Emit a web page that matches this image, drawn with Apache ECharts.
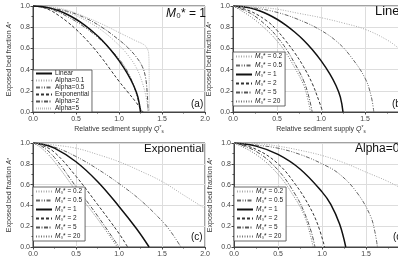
<!DOCTYPE html>
<html>
<head>
<meta charset="utf-8">
<script src="https://cdn.jsdelivr.net/npm/echarts@6/dist/echarts.min.js"></script>
<style>
  html, body { margin: 0; padding: 0; background: #fff; }
  #chart { width: 398px; height: 260px; }
</style>
</head>
<body>
<div id="chart"></div>
<script>
  // panel (a): M0* = 1, different models
  const aLinear = [[0,1],[0.1,0.995],[0.2,0.98],[0.3,0.955],[0.4,0.92],[0.5,0.875],[0.6,0.82],[0.7,0.755],[0.8,0.68],[0.9,0.59],[1.0,0.485],[1.1,0.36],[1.17,0.25],[1.22,0.14],[1.25,0]]
  const aAlpha01 = [[0,1],[0.2,0.98],[0.4,0.94],[0.6,0.87],[0.8,0.77],[1.0,0.63],[1.1,0.54],[1.2,0.42],[1.27,0.28],[1.32,0.12],[1.34,0]]
  const aAlpha05 = [[0,1],[0.2,0.97],[0.4,0.9],[0.6,0.8],[0.8,0.67],[1.0,0.5],[1.1,0.38],[1.17,0.25],[1.22,0.12],[1.26,0]]
  const aExpon = [[0,1],[0.1,0.99],[0.2,0.96],[0.3,0.91],[0.4,0.85],[0.5,0.78],[0.6,0.7],[0.7,0.61],[0.8,0.51],[0.9,0.4],[1.0,0.29],[1.1,0.19],[1.2,0.09],[1.26,0.02],[1.28,0]]
  const aAlpha2 = [[0,1],[0.2,0.98],[0.4,0.95],[0.6,0.89],[0.8,0.8],[1.0,0.68],[1.1,0.61],[1.2,0.52],[1.27,0.43],[1.31,0.32],[1.33,0.15],[1.34,0]]
  const aAlpha5 = [[0,1],[0.2,0.99],[0.4,0.96],[0.6,0.9],[0.8,0.83],[1.0,0.75],[1.1,0.71],[1.2,0.67],[1.28,0.64],[1.32,0.61],[1.345,0.55],[1.35,0.4],[1.352,0]]

  // panel (b): Linear, different M0*
  const bM02 = [[0,1],[0.25,0.99],[0.5,0.97],[0.75,0.93],[1.0,0.89],[1.25,0.84],[1.5,0.78],[1.75,0.68],[1.9,0.59],[2.0,0.52]]
  const bM05 = [[0,1],[0.25,0.98],[0.5,0.94],[0.75,0.87],[1.0,0.77],[1.2,0.65],[1.35,0.51],[1.5,0.32],[1.57,0.15],[1.6,0]]
  const bM1 = aLinear
  const bM2 = [[0,1],[0.2,0.95],[0.4,0.85],[0.5,0.77],[0.6,0.67],[0.7,0.56],[0.8,0.43],[0.9,0.27],[0.97,0.12],[1.02,0]]
  const bM5 = [[0,1],[0.2,0.93],[0.4,0.8],[0.5,0.71],[0.6,0.6],[0.7,0.46],[0.8,0.3],[0.86,0.15],[0.9,0]]
  const bM20 = [[0,1],[0.2,0.9],[0.4,0.76],[0.5,0.67],[0.6,0.56],[0.7,0.42],[0.8,0.26],[0.85,0.12],[0.88,0]]

  // panel (c): Exponential
  const cM02 = [[0,1],[0.25,0.98],[0.5,0.95],[0.75,0.89],[1.0,0.82],[1.25,0.73],[1.5,0.63],[1.75,0.5],[2.0,0.37]]
  const cM05 = [[0,1],[0.25,0.96],[0.5,0.87],[0.75,0.75],[1.0,0.61],[1.25,0.45],[1.5,0.25],[1.6,0.15],[1.72,0]]
  const cM1 = [[0,1],[0.1,0.99],[0.25,0.95],[0.5,0.82],[0.75,0.63],[1.0,0.39],[1.2,0.18],[1.35,0]]
  const cM2 = [[0,1],[0.1,0.98],[0.25,0.91],[0.5,0.68],[0.75,0.41],[1.0,0.13],[1.1,0]]
  const cM5 = [[0,1],[0.1,0.97],[0.25,0.86],[0.5,0.58],[0.75,0.3],[1.0,0]]
  const cM20 = [[0,1],[0.1,0.95],[0.25,0.82],[0.5,0.54],[0.75,0.27],[0.98,0]]

  // panel (d): Alpha=0
  const dM02 = [[0,1],[0.25,0.995],[0.5,0.97],[0.75,0.93],[1.0,0.88],[1.25,0.81],[1.5,0.72],[1.75,0.63],[2.0,0.52]]
  const dM05 = [[0,1],[0.25,0.98],[0.5,0.95],[0.75,0.89],[1.0,0.8],[1.2,0.7],[1.4,0.52],[1.55,0.3],[1.6,0.15],[1.63,0]]
  const dM1 = [[0,1],[0.25,0.97],[0.5,0.89],[0.75,0.75],[1.0,0.53],[1.1,0.41],[1.2,0.22],[1.27,0]]
  const dM2 = [[0,1],[0.25,0.94],[0.5,0.8],[0.7,0.6],[0.85,0.4],[0.95,0.22],[1.03,0]]
  const dM5 = [[0,1],[0.25,0.92],[0.5,0.74],[0.7,0.5],[0.8,0.33],[0.88,0.14],[0.92,0]]
  const dM20 = [[0,1],[0.25,0.89],[0.5,0.7],[0.7,0.46],[0.8,0.3],[0.86,0.14],[0.9,0]]

  const modelNames = ['Linear', 'Alpha=0.1', 'Alpha=0.5', 'Exponential', 'Alpha=2', 'Alpha=5']
  const m0Values = ['0.2', '0.5', '1', '2', '5', '20']
  const m0Names = m0Values.map(v => 'M0* = ' + v)

  const font = 'Liberation Sans'

  const lineStyles = [
    { color: '#111', width: 1.5, type: 'solid' },
    { color: '#aaa', width: 1, type: [1, 1.5] },
    { color: '#666', width: 1, type: [4, 1.5, 1, 1.5, 1, 1.5] },
    { color: '#333', width: 1, type: [3, 2] },
    { color: '#555', width: 1, type: [4, 1.5, 1, 1.5] },
    { color: '#bbb', width: 1, type: [1, 1] }
  ]
  const m0Styles = [
    { color: '#aaa', width: 1, type: [1, 1.5] },
    { color: '#666', width: 1, type: [4, 1.5, 1, 1.5, 1, 1.5] },
    { color: '#111', width: 1.5, type: 'solid' },
    { color: '#333', width: 1, type: [3, 2] },
    { color: '#555', width: 1, type: [4, 1.5, 1, 1.5] },
    { color: '#777', width: 1, type: [1, 1.5] }
  ]

  const panels = [
    { left: 33, top: 6, width: 172, height: 106, names: modelNames, styles: lineStyles,
      data: [aLinear, aAlpha01, aAlpha05, aExpon, aAlpha2, aAlpha5] },
    { left: 233, top: 6, width: 176, height: 106, names: m0Names, styles: m0Styles,
      data: [bM02, bM05, bM1, bM2, bM5, bM20] },
    { left: 33, top: 143, width: 172, height: 104, names: m0Names, styles: m0Styles,
      data: [cM02, cM05, cM1, cM2, cM5, cM20] },
    { left: 234, top: 143, width: 176, height: 104, names: m0Names, styles: m0Styles,
      data: [dM02, dM05, dM1, dM2, dM5, dM20] }
  ]

  const grid = [], xAxis = [], yAxis = [], series = []
  panels.forEach((p, i) => {
    grid.push({ left: p.left, top: p.top, width: p.width, height: p.height,
      outerBoundsMode: 'none', containLabel: false,
      show: true, borderColor: '#444', borderWidth: 1 })
    xAxis.push({
      gridIndex: i, type: 'value', min: 0, max: 2, interval: 0.5,
      name: 'Relative sediment supply {q|Q}{s|*}{b|s}', nameLocation: 'middle', nameGap: 13,
      nameTextStyle: { fontFamily: font, fontSize: 7, color: '#333',
        rich: { q: { fontSize: 7, fontStyle: 'italic' }, s: { fontSize: 5, padding: [0, 0, 4, 0] }, b: { fontSize: 4.5, padding: [4, 0, 0, 0] } } },
      axisLine: { lineStyle: { color: '#444' } },
      axisTick: { length: 2.5, lineStyle: { color: '#444' } },
      minorTick: { show: true, splitNumber: 2, length: 1.5, lineStyle: { color: '#444' } },
      axisLabel: { fontFamily: font, fontSize: 7, color: '#444', margin: 4, formatter: v => v.toFixed(1) },
      splitLine: { show: true, lineStyle: { color: '#ddd', width: 1 } }
    })
    yAxis.push({
      gridIndex: i, type: 'value', min: 0, max: 1, interval: 0.2,
      name: 'Exposed bed fraction {a|A}{s|*}', nameLocation: 'middle', nameGap: 20,
      nameTextStyle: { fontFamily: font, fontSize: 7, color: '#333',
        rich: { a: { fontSize: 7, fontStyle: 'italic' }, s: { fontSize: 5 } } },
      axisLine: { lineStyle: { color: '#444' } },
      axisTick: { length: 2.5, lineStyle: { color: '#444' } },
      minorTick: { show: true, splitNumber: 2, length: 1.5, lineStyle: { color: '#444' } },
      axisLabel: { fontFamily: font, fontSize: 7, color: '#444', margin: 3, formatter: v => v.toFixed(1) },
      splitLine: { show: true, lineStyle: { color: '#ddd', width: 1 } }
    })
    p.data.forEach((d, k) => {
      series.push({
        name: p.names[k], type: 'line', xAxisIndex: i, yAxisIndex: i, data: d,
        symbol: 'none', smooth: 0.4,
        lineStyle: p.styles[k], itemStyle: { color: p.styles[k].color },
        emphasis: { disabled: true }, z: k === 0 ? 3 : 2
      })
    })
  })

  const m0Formatter = name => '{m|M}₀* = ' + name.split('= ')[1]
  const legendBase = {
    orient: 'vertical', itemWidth: 16, itemHeight: 6, selectedMode: false,
    itemStyle: { opacity: 0 },
    backgroundColor: '#fff', borderColor: '#444', borderWidth: 0.8, borderRadius: 0,
    textStyle: { fontFamily: font, fontSize: 6.5, color: '#222', padding: [0, 0, 0, -2],
      rich: { m: { fontSize: 6.5, fontStyle: 'italic', fontFamily: font } } }
  }
  const legend = [
    Object.assign({}, legendBase, { left: 33, top: 70, itemGap: 0, padding: [0, 3, 0, 2],
      data: modelNames, textStyle: Object.assign({}, legendBase.textStyle, { lineHeight: 7 }) }),
    Object.assign({}, legendBase, { left: 233, top: 52, itemGap: 2, padding: [1, 3, 1, 2],
      data: m0Names, formatter: m0Formatter }),
    Object.assign({}, legendBase, { left: 33, top: 187, itemGap: 2, padding: [1, 3, 1, 2],
      data: m0Names, formatter: m0Formatter }),
    Object.assign({}, legendBase, { left: 234, top: 187, itemGap: 2, padding: [1, 3, 1, 2],
      data: m0Names, formatter: m0Formatter })
  ]

  const label = (text, left, top, size, rich) => ({
    type: 'text', left, top, z: 10,
    style: { text, fill: '#111', font: size + 'px "' + font + '"', rich: rich || {} }
  })

  const chart = echarts.init(document.getElementById('chart'))
  chart.setOption({
    animation: false,
    grid, xAxis, yAxis, series, legend,
    graphic: [
      label('{m|M}₀* = 1', 166, 8, 12, { m: { fontStyle: 'italic', fontSize: 12, fontFamily: font } }),
      label('Linear', 375, 5, 13),
      label('Exponential', 144, 143, 11.5),
      label('Alpha=0', 355, 143, 12),
      label('(a)', 191, 99, 10),
      label('(b)', 392, 99, 10),
      label('(c)', 191, 232, 10),
      label('(d)', 393, 232, 10)
    ]
  })
</script>
</body>
</html>
